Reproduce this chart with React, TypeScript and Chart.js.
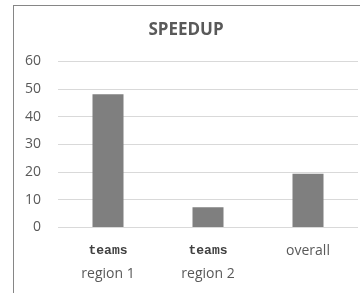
import React, { useEffect, useRef } from "react";
import { Chart, registerables } from "chart.js";

Chart.register(...registerables);

const line1Labels = ["teams", "teams", "overall"];
const line2Labels = ["region 1", "region 2", ""];
const speedup = [48.2, 7.3, 19.4];
const yMin = 0;
const yMax = 60;
const yStep = 10;

export default function App() {
  const ref = useRef<HTMLCanvasElement | null>(null);

  useEffect(() => {
    if (!ref.current) return;
    const chart = new Chart(ref.current, {
      type: "bar",
      data: {
        labels: line1Labels,
        datasets: [
          {
            label: "SPEEDUP",
            data: speedup,
            backgroundColor: "#7f7f7f",
            borderWidth: 0,
            categoryPercentage: 1,
            barPercentage: 0.31,
            xAxisID: "x",
          },
        ],
      },
      options: {
        responsive: false,
        animation: false,
        layout: { padding: { top: 0, right: 16, bottom: 23.5, left: 0 } },
        plugins: {
          legend: { display: false },
          tooltip: { enabled: false },
          title: {
            display: true,
            text: "SPEEDUP",
            color: "#595959",
            font: { family: "'Open Sans'", size: 17, weight: "bold" },
            padding: { top: 14.1, bottom: 21 },
          },
        },
        scales: {
          y: {
            min: yMin,
            max: yMax,
            ticks: {
              stepSize: yStep,
              color: "#595959",
              font: { family: "'Open Sans'", size: 14 },
              padding: 17,
            },
            grid: { color: "#d9d9d9", lineWidth: 1, drawTicks: false },
            border: { display: false },
            afterFit: (s: any) => {
              s.width = 44;
            },
          },
          x: {
            type: "category",
            position: "bottom",
            offset: true,
            grid: { display: false, drawTicks: false },
            border: { display: false },
            ticks: {
              padding: 15,
              maxRotation: 0,
              autoSkip: false,
              color: (ctx: any) => (ctx.index < 2 ? "#404040" : "#595959"),
              font: (ctx: any) =>
                ctx.index < 2
                  ? { family: "'Liberation Mono'", size: 13, weight: "bold" }
                  : { family: "'Open Sans'", size: 14 },
            },
            afterFit: (s: any) => {
              s.height = 31;
            },
          },
          x2: {
            type: "category",
            position: "bottom",
            offset: true,
            labels: line2Labels,
            grid: { display: false, drawTicks: false },
            border: { display: false },
            ticks: {
              padding: 7,
              maxRotation: 0,
              autoSkip: false,
              color: "#595959",
              font: { family: "'Open Sans'", size: 14 },
            },
            afterFit: (s: any) => {
              s.height = 24;
            },
          },
        },
      },
    });
    return () => chart.destroy();
  }, []);

  return (
    <div
      style={{
        position: "absolute",
        left: 13,
        top: 5,
        width: 420,
        height: 320,
        border: "1px solid #868686",
        boxSizing: "border-box",
        background: "#fff",
      }}
    >
      <canvas ref={ref} width={360} height={300} style={{ display: "block" }} />
    </div>
  );
}
